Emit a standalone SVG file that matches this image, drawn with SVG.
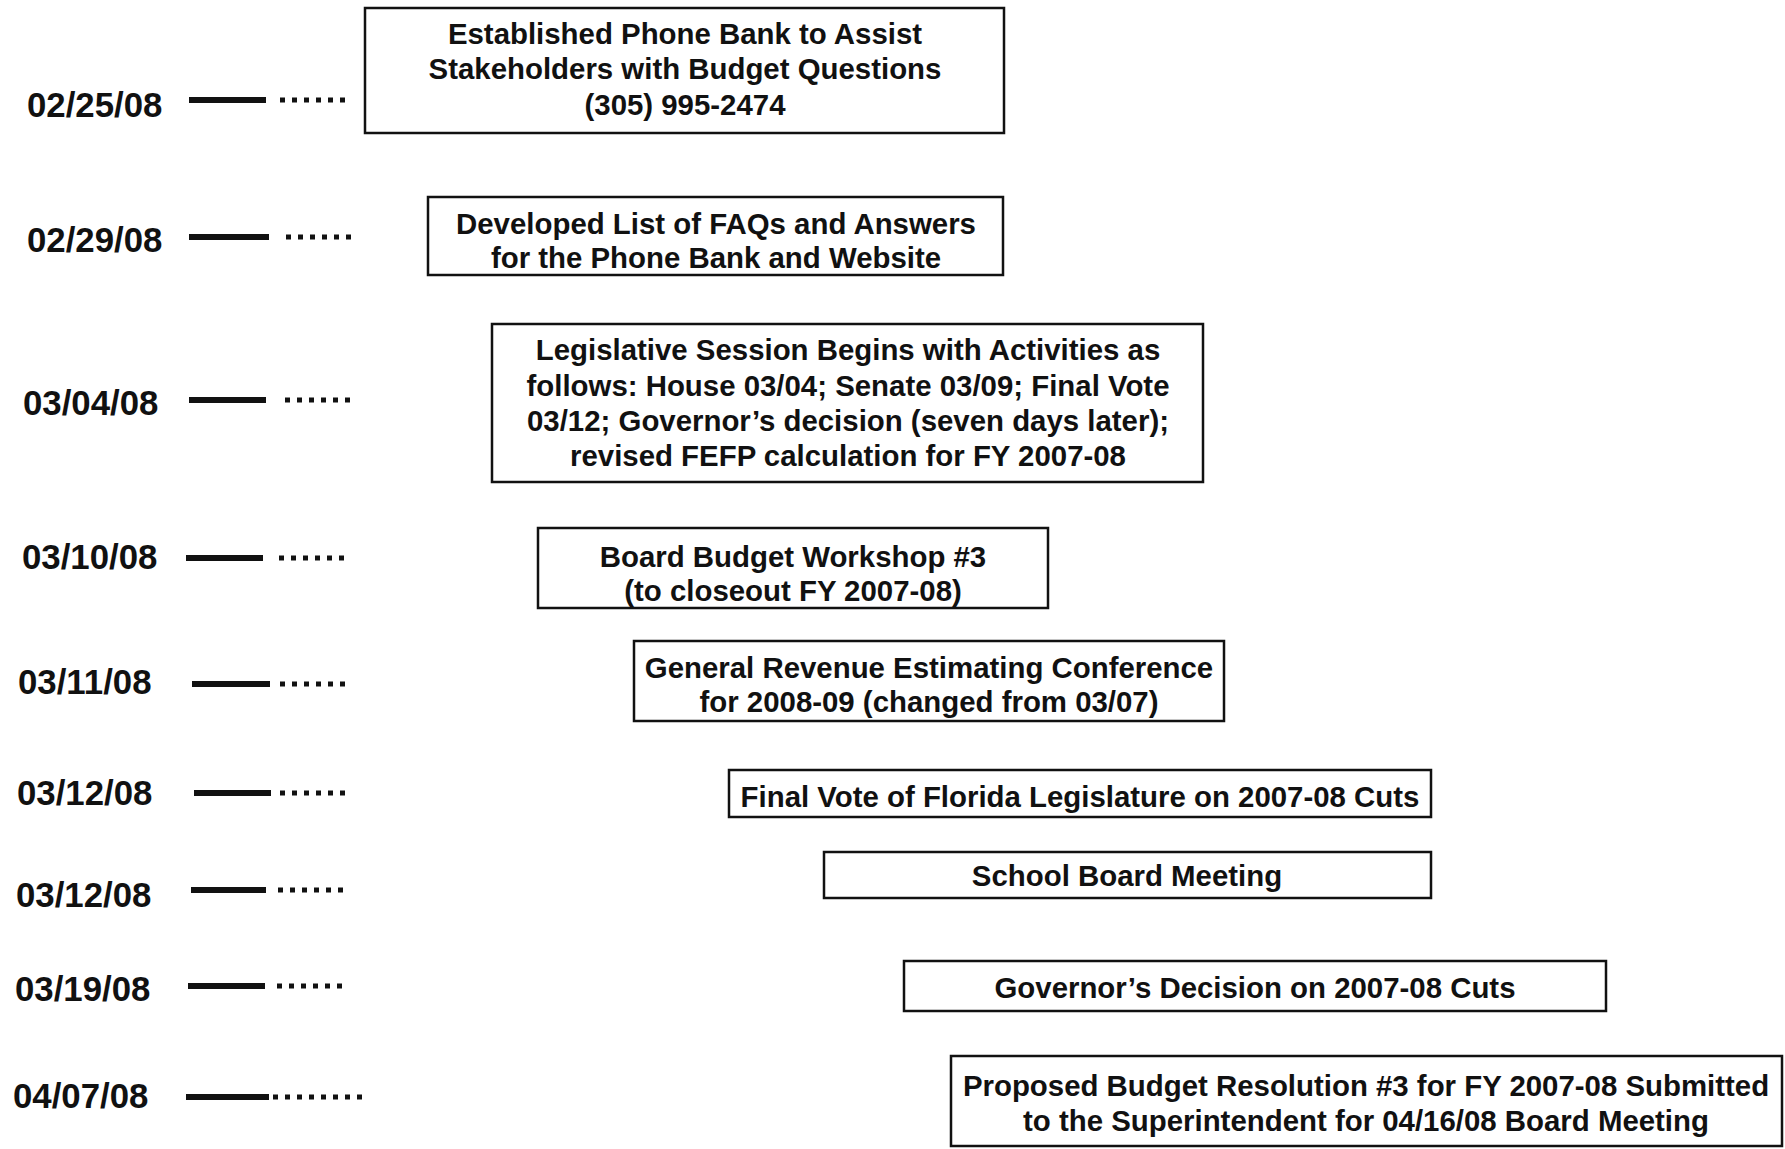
<svg xmlns="http://www.w3.org/2000/svg" width="1785" height="1149" viewBox="0 0 1785 1149">
<style>
.date{font-family:"Liberation Sans",Arial,sans-serif;font-weight:bold;font-size:34.8px;fill:#111;dominant-baseline:central}
.lbl{font-family:"Liberation Sans",Arial,sans-serif;font-weight:bold;font-size:29.4px;fill:#111;text-anchor:middle;dominant-baseline:central}
.box{fill:#fff;stroke:#111;stroke-width:2.5}
.solid{stroke:#111;stroke-width:6}
.dot{stroke:#111;stroke-width:5;stroke-dasharray:5 7}
</style>
<rect width="1785" height="1149" fill="#fff"/>
<g id="connectors">
<line class="solid" x1="189" y1="100" x2="266" y2="100"/><line class="dot" x1="280" y1="100" x2="348" y2="100"/>
<line class="solid" x1="189" y1="237" x2="269" y2="237"/><line class="dot" x1="286" y1="237" x2="354" y2="237"/>
<line class="solid" x1="189" y1="400" x2="266" y2="400"/><line class="dot" x1="285" y1="400" x2="353" y2="400"/>
<line class="solid" x1="186" y1="558" x2="263" y2="558"/><line class="dot" x1="279" y1="558" x2="347" y2="558"/>
<line class="solid" x1="192" y1="684" x2="270" y2="684"/><line class="dot" x1="280" y1="684" x2="348" y2="684"/>
<line class="solid" x1="194" y1="793" x2="271" y2="793"/><line class="dot" x1="280" y1="793" x2="348" y2="793"/>
<line class="solid" x1="191" y1="890" x2="266" y2="890"/><line class="dot" x1="278" y1="890" x2="346" y2="890"/>
<line class="solid" x1="188" y1="986" x2="265" y2="986"/><line class="dot" x1="277" y1="986" x2="345" y2="986"/>
<line class="solid" x1="186" y1="1097" x2="269" y2="1097"/><line class="dot" x1="273" y1="1097" x2="366" y2="1097"/>
</g>
<g id="d1"><text class="date" x="27" y="104">02/25/08</text></g>
<g id="d2"><text class="date" x="27" y="239">02/29/08</text></g>
<g id="d3"><text class="date" x="23" y="402">03/04/08</text></g>
<g id="d4"><text class="date" x="22" y="556">03/10/08</text></g>
<g id="d5"><text class="date" x="18" y="681">03/11/08</text></g>
<g id="d6"><text class="date" x="17" y="792">03/12/08</text></g>
<g id="d7"><text class="date" x="16" y="894">03/12/08</text></g>
<g id="d8"><text class="date" x="15" y="988">03/19/08</text></g>
<g id="d9"><text class="date" x="13" y="1095">04/07/08</text></g>
<g id="n1"><rect class="box" x="365" y="8" width="639" height="125"/>
<text class="lbl" x="685" y="33">Established Phone Bank to Assist</text>
<text class="lbl" x="685" y="68">Stakeholders with Budget Questions</text>
<text class="lbl" x="685" y="104">(305) 995-2474</text></g>
<g id="n2"><rect class="box" x="428" y="197" width="575" height="78"/>
<text class="lbl" x="716" y="223">Developed List of FAQs and Answers</text>
<text class="lbl" x="716" y="257">for the Phone Bank and Website</text></g>
<g id="n3"><rect class="box" x="492" y="324" width="711" height="158"/>
<text class="lbl" x="848" y="349">Legislative Session Begins with Activities as</text>
<text class="lbl" x="848" y="385">follows: House 03/04; Senate 03/09; Final Vote</text>
<text class="lbl" x="848" y="420">03/12; Governor’s decision (seven days later);</text>
<text class="lbl" x="848" y="455">revised FEFP calculation for FY 2007-08</text></g>
<g id="n4"><rect class="box" x="538" y="528" width="510" height="80"/>
<text class="lbl" x="793" y="556">Board Budget Workshop #3</text>
<text class="lbl" x="793" y="590">(to closeout FY 2007-08)</text></g>
<g id="n5"><rect class="box" x="634" y="641" width="590" height="80"/>
<text class="lbl" x="929" y="667">General Revenue Estimating Conference</text>
<text class="lbl" x="929" y="701">for 2008-09 (changed from 03/07)</text></g>
<g id="n6"><rect class="box" x="729" y="770" width="702" height="47"/>
<text class="lbl" x="1080" y="796">Final Vote of Florida Legislature on 2007-08 Cuts</text></g>
<g id="n7"><rect class="box" x="824" y="852" width="607" height="46"/>
<text class="lbl" x="1127" y="875">School Board Meeting</text></g>
<g id="n8"><rect class="box" x="904" y="961" width="702" height="50"/>
<text class="lbl" x="1255" y="987">Governor’s Decision on 2007-08 Cuts</text></g>
<g id="n9"><rect class="box" x="951" y="1056" width="831" height="90"/>
<text class="lbl" x="1366" y="1085">Proposed Budget Resolution #3 for FY 2007-08 Submitted</text>
<text class="lbl" x="1366" y="1120">to the Superintendent for 04/16/08 Board Meeting</text></g>
</svg>
